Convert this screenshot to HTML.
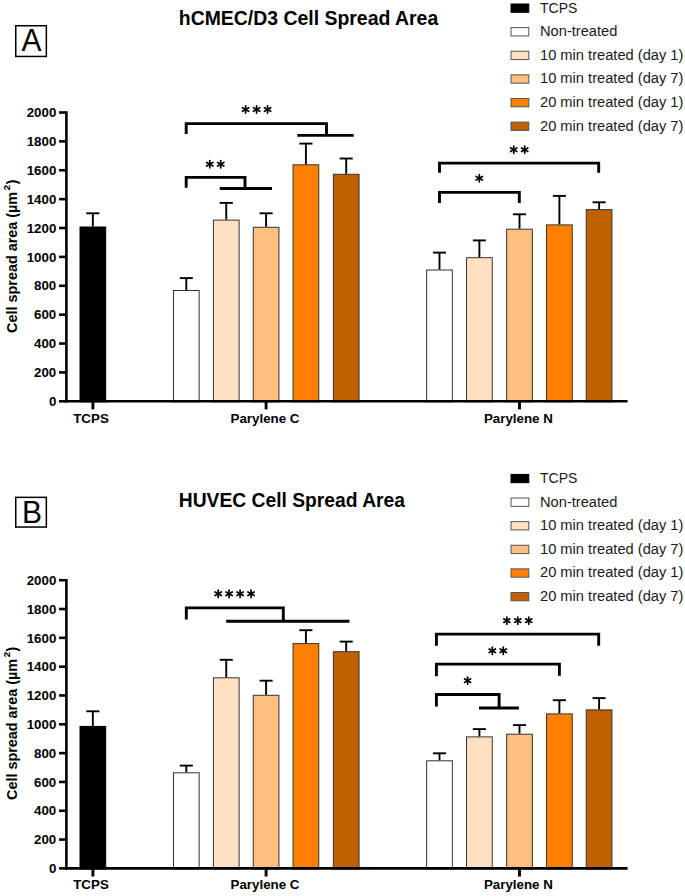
<!DOCTYPE html>
<html><head><meta charset="utf-8"><style>
html,body{margin:0;padding:0;background:#fff;}
body{width:685px;height:896px;overflow:hidden;font-family:"Liberation Sans", sans-serif;}
svg{display:block;}
</style></head><body>
<svg width="685" height="896" viewBox="0 0 685 896" font-family='"Liberation Sans", sans-serif'>
<rect x="15.75" y="25.75" width="30.6" height="30.7" fill="none" stroke="#000" stroke-width="1.5"/>
<text transform="translate(31.55 51.4) scale(1 1.075)" font-size="30" text-anchor="middle" fill="#000">A</text>
<text x="178.8" y="24.9" font-size="19.3" font-weight="bold" fill="#000" textLength="259.4" lengthAdjust="spacingAndGlyphs">hCMEC/D3 Cell Spread Area</text>
<rect x="511" y="4.00" width="17.8" height="8.3" fill="#000000" stroke="#000" stroke-width="1"/>
<text x="540" y="12.50" font-size="14.67" fill="#1a1a1a" textLength="37.3" lengthAdjust="spacingAndGlyphs">TCPS</text>
<rect x="511" y="27.62" width="17.8" height="8.3" fill="#ffffff" stroke="#555" stroke-width="1"/>
<text x="540" y="36.12" font-size="14.67" fill="#1a1a1a">Non-treated</text>
<rect x="511" y="51.24" width="17.8" height="8.3" fill="#ffe0c2" stroke="#555" stroke-width="1"/>
<text x="540" y="59.74" font-size="14.67" fill="#1a1a1a">10 min treated (day 1)</text>
<rect x="511" y="74.86" width="17.8" height="8.3" fill="#ffbf80" stroke="#555" stroke-width="1"/>
<text x="540" y="83.36" font-size="14.67" fill="#1a1a1a">10 min treated (day 7)</text>
<rect x="511" y="98.48" width="17.8" height="8.3" fill="#ff8000" stroke="#555" stroke-width="1"/>
<text x="540" y="106.98" font-size="14.67" fill="#1a1a1a">20 min treated (day 1)</text>
<rect x="511" y="122.10" width="17.8" height="8.3" fill="#c06000" stroke="#555" stroke-width="1"/>
<text x="540" y="130.60" font-size="14.67" fill="#1a1a1a">20 min treated (day 7)</text>
<text transform="translate(17.2 332.90) rotate(-90)" font-size="14.4" font-weight="bold" fill="#000">Cell spread area (µm<tspan dx="1.7" dy="-6.8" font-size="9.8">2</tspan><tspan dx="0.4" dy="6.8">)</tspan></text>
<text x="56.3" y="406.00" font-size="13.33" font-weight="bold" text-anchor="end" fill="#000">0</text>
<text x="56.3" y="377.12" font-size="13.33" font-weight="bold" text-anchor="end" fill="#000">200</text>
<text x="56.3" y="348.24" font-size="13.33" font-weight="bold" text-anchor="end" fill="#000">400</text>
<text x="56.3" y="319.36" font-size="13.33" font-weight="bold" text-anchor="end" fill="#000">600</text>
<text x="56.3" y="290.48" font-size="13.33" font-weight="bold" text-anchor="end" fill="#000">800</text>
<text x="56.3" y="261.60" font-size="13.33" font-weight="bold" text-anchor="end" fill="#000">1000</text>
<text x="56.3" y="232.72" font-size="13.33" font-weight="bold" text-anchor="end" fill="#000">1200</text>
<text x="56.3" y="203.84" font-size="13.33" font-weight="bold" text-anchor="end" fill="#000">1400</text>
<text x="56.3" y="174.96" font-size="13.33" font-weight="bold" text-anchor="end" fill="#000">1600</text>
<text x="56.3" y="146.08" font-size="13.33" font-weight="bold" text-anchor="end" fill="#000">1800</text>
<text x="56.3" y="117.20" font-size="13.33" font-weight="bold" text-anchor="end" fill="#000">2000</text>
<g stroke="#000" stroke-width="2.6"><line x1="59" y1="401.30" x2="66" y2="401.30"/><line x1="59" y1="372.42" x2="66" y2="372.42"/><line x1="59" y1="343.54" x2="66" y2="343.54"/><line x1="59" y1="314.66" x2="66" y2="314.66"/><line x1="59" y1="285.78" x2="66" y2="285.78"/><line x1="59" y1="256.90" x2="66" y2="256.90"/><line x1="59" y1="228.02" x2="66" y2="228.02"/><line x1="59" y1="199.14" x2="66" y2="199.14"/><line x1="59" y1="170.26" x2="66" y2="170.26"/><line x1="59" y1="141.38" x2="66" y2="141.38"/><line x1="59" y1="112.50" x2="66" y2="112.50"/></g>
<rect x="80.00" y="227.00" width="25.7" height="174.80" fill="#000000" stroke="#000" stroke-width="1"/>
<rect x="173.45" y="290.50" width="25.7" height="111.30" fill="#ffffff" stroke="#333" stroke-width="1"/>
<rect x="213.40" y="220.10" width="25.7" height="181.70" fill="#ffe0c2" stroke="#333" stroke-width="1"/>
<rect x="253.25" y="227.30" width="25.7" height="174.50" fill="#ffbf80" stroke="#333" stroke-width="1"/>
<rect x="293.05" y="164.80" width="25.7" height="237.00" fill="#ff8000" stroke="#333" stroke-width="1"/>
<rect x="333.35" y="174.30" width="25.7" height="227.50" fill="#c06000" stroke="#333" stroke-width="1"/>
<rect x="426.65" y="270.00" width="25.7" height="131.80" fill="#ffffff" stroke="#333" stroke-width="1"/>
<rect x="466.55" y="257.70" width="25.7" height="144.10" fill="#ffe0c2" stroke="#333" stroke-width="1"/>
<rect x="506.65" y="229.20" width="25.7" height="172.60" fill="#ffbf80" stroke="#333" stroke-width="1"/>
<rect x="546.55" y="224.90" width="25.7" height="176.90" fill="#ff8000" stroke="#333" stroke-width="1"/>
<rect x="586.25" y="209.60" width="25.7" height="192.20" fill="#c06000" stroke="#333" stroke-width="1"/>
<g stroke="#000" stroke-width="1.9"><line x1="92.85" y1="226.50" x2="92.85" y2="213.30"/><line x1="86.30" y1="213.30" x2="99.40" y2="213.30"/><line x1="186.30" y1="290.00" x2="186.30" y2="278.10"/><line x1="179.75" y1="278.10" x2="192.85" y2="278.10"/><line x1="226.25" y1="219.60" x2="226.25" y2="202.90"/><line x1="219.70" y1="202.90" x2="232.80" y2="202.90"/><line x1="266.10" y1="226.80" x2="266.10" y2="213.30"/><line x1="259.55" y1="213.30" x2="272.65" y2="213.30"/><line x1="305.90" y1="164.30" x2="305.90" y2="143.60"/><line x1="299.35" y1="143.60" x2="312.45" y2="143.60"/><line x1="346.20" y1="173.80" x2="346.20" y2="158.50"/><line x1="339.65" y1="158.50" x2="352.75" y2="158.50"/><line x1="439.50" y1="269.50" x2="439.50" y2="252.60"/><line x1="432.95" y1="252.60" x2="446.05" y2="252.60"/><line x1="479.40" y1="257.20" x2="479.40" y2="240.40"/><line x1="472.85" y1="240.40" x2="485.95" y2="240.40"/><line x1="519.50" y1="228.70" x2="519.50" y2="214.30"/><line x1="512.95" y1="214.30" x2="526.05" y2="214.30"/><line x1="559.40" y1="224.40" x2="559.40" y2="195.90"/><line x1="552.85" y1="195.90" x2="565.95" y2="195.90"/><line x1="599.10" y1="209.10" x2="599.10" y2="202.30"/><line x1="592.55" y1="202.30" x2="605.65" y2="202.30"/></g>
<g stroke="#000" stroke-width="2.6" fill="none"><line x1="66.4" y1="111.20" x2="66.4" y2="402.60"/><line x1="65.1" y1="401.30" x2="627.6" y2="401.30"/></g>
<g stroke="#000" stroke-width="2.9"><line x1="92.9" y1="401.30" x2="92.9" y2="409.40"/><line x1="266.1" y1="401.30" x2="266.1" y2="409.40"/><line x1="519.5" y1="401.30" x2="519.5" y2="409.40"/></g>
<text x="91" y="423.30" font-size="13.33" font-weight="bold" text-anchor="middle" fill="#000">TCPS</text>
<text x="265" y="423.30" font-size="13.33" font-weight="bold" text-anchor="middle" fill="#000">Parylene C</text>
<text x="518.4" y="423.30" font-size="13.33" font-weight="bold" text-anchor="middle" fill="#000">Parylene N</text>
<g stroke="#000" stroke-width="2.9" fill="none" stroke-linejoin="miter"><path d="M186.20 134.10 L186.20 123.60 L326.50 123.60 L326.50 135.40"/><path d="M297.30 135.40 L353.70 135.40"/><path d="M186.20 187.70 L186.20 177.40 L245.00 177.40 L245.00 188.50"/><path d="M219.70 188.50 L272.00 188.50"/><path d="M439.50 172.80 L439.50 163.10 L598.70 163.10 L598.70 172.80"/><path d="M439.50 203.10 L439.50 192.40 L519.30 192.40 L519.30 203.10"/></g>
<g stroke="#000" stroke-width="1.7" stroke-linecap="round"><line x1="245.65" y1="105.90" x2="245.65" y2="113.10"/><line x1="242.53" y1="107.70" x2="248.77" y2="111.30"/><line x1="248.77" y1="107.70" x2="242.53" y2="111.30"/><line x1="256.60" y1="105.90" x2="256.60" y2="113.10"/><line x1="253.48" y1="107.70" x2="259.72" y2="111.30"/><line x1="259.72" y1="107.70" x2="253.48" y2="111.30"/><line x1="267.55" y1="105.90" x2="267.55" y2="113.10"/><line x1="264.43" y1="107.70" x2="270.67" y2="111.30"/><line x1="270.67" y1="107.70" x2="264.43" y2="111.30"/><line x1="209.78" y1="160.60" x2="209.78" y2="167.80"/><line x1="206.66" y1="162.40" x2="212.89" y2="166.00"/><line x1="212.89" y1="162.40" x2="206.66" y2="166.00"/><line x1="220.72" y1="160.60" x2="220.72" y2="167.80"/><line x1="217.61" y1="162.40" x2="223.84" y2="166.00"/><line x1="223.84" y1="162.40" x2="217.61" y2="166.00"/><line x1="513.73" y1="146.10" x2="513.73" y2="153.30"/><line x1="510.61" y1="147.90" x2="516.84" y2="151.50"/><line x1="516.84" y1="147.90" x2="510.61" y2="151.50"/><line x1="524.68" y1="146.10" x2="524.68" y2="153.30"/><line x1="521.56" y1="147.90" x2="527.79" y2="151.50"/><line x1="527.79" y1="147.90" x2="521.56" y2="151.50"/><line x1="479.30" y1="174.60" x2="479.30" y2="181.80"/><line x1="476.18" y1="176.40" x2="482.42" y2="180.00"/><line x1="482.42" y1="176.40" x2="476.18" y2="180.00"/></g>
<rect x="15.75" y="497.35" width="30.6" height="29.7" fill="none" stroke="#000" stroke-width="1.5"/>
<text transform="translate(32.0 522.8) scale(1 1.075)" font-size="30" text-anchor="middle" fill="#000">B</text>
<text x="178.8" y="507" font-size="19.3" font-weight="bold" fill="#000" textLength="226.2" lengthAdjust="spacingAndGlyphs">HUVEC Cell Spread Area</text>
<rect x="511" y="474.40" width="17.8" height="8.3" fill="#000000" stroke="#000" stroke-width="1"/>
<text x="540" y="482.90" font-size="14.67" fill="#1a1a1a" textLength="37.3" lengthAdjust="spacingAndGlyphs">TCPS</text>
<rect x="511" y="498.02" width="17.8" height="8.3" fill="#ffffff" stroke="#555" stroke-width="1"/>
<text x="540" y="506.52" font-size="14.67" fill="#1a1a1a">Non-treated</text>
<rect x="511" y="521.64" width="17.8" height="8.3" fill="#ffe0c2" stroke="#555" stroke-width="1"/>
<text x="540" y="530.14" font-size="14.67" fill="#1a1a1a">10 min treated (day 1)</text>
<rect x="511" y="545.26" width="17.8" height="8.3" fill="#ffbf80" stroke="#555" stroke-width="1"/>
<text x="540" y="553.76" font-size="14.67" fill="#1a1a1a">10 min treated (day 7)</text>
<rect x="511" y="568.88" width="17.8" height="8.3" fill="#ff8000" stroke="#555" stroke-width="1"/>
<text x="540" y="577.38" font-size="14.67" fill="#1a1a1a">20 min treated (day 1)</text>
<rect x="511" y="592.50" width="17.8" height="8.3" fill="#c06000" stroke="#555" stroke-width="1"/>
<text x="540" y="601.00" font-size="14.67" fill="#1a1a1a">20 min treated (day 7)</text>
<text transform="translate(17.2 800.00) rotate(-90)" font-size="14.4" font-weight="bold" fill="#000">Cell spread area (µm<tspan dx="1.7" dy="-6.8" font-size="9.8">2</tspan><tspan dx="0.4" dy="6.8">)</tspan></text>
<text x="56.3" y="873.10" font-size="13.33" font-weight="bold" text-anchor="end" fill="#000">0</text>
<text x="56.3" y="844.28" font-size="13.33" font-weight="bold" text-anchor="end" fill="#000">200</text>
<text x="56.3" y="815.46" font-size="13.33" font-weight="bold" text-anchor="end" fill="#000">400</text>
<text x="56.3" y="786.64" font-size="13.33" font-weight="bold" text-anchor="end" fill="#000">600</text>
<text x="56.3" y="757.82" font-size="13.33" font-weight="bold" text-anchor="end" fill="#000">800</text>
<text x="56.3" y="729.00" font-size="13.33" font-weight="bold" text-anchor="end" fill="#000">1000</text>
<text x="56.3" y="700.18" font-size="13.33" font-weight="bold" text-anchor="end" fill="#000">1200</text>
<text x="56.3" y="671.36" font-size="13.33" font-weight="bold" text-anchor="end" fill="#000">1400</text>
<text x="56.3" y="642.54" font-size="13.33" font-weight="bold" text-anchor="end" fill="#000">1600</text>
<text x="56.3" y="613.72" font-size="13.33" font-weight="bold" text-anchor="end" fill="#000">1800</text>
<text x="56.3" y="584.90" font-size="13.33" font-weight="bold" text-anchor="end" fill="#000">2000</text>
<g stroke="#000" stroke-width="2.6"><line x1="59" y1="868.40" x2="66" y2="868.40"/><line x1="59" y1="839.58" x2="66" y2="839.58"/><line x1="59" y1="810.76" x2="66" y2="810.76"/><line x1="59" y1="781.94" x2="66" y2="781.94"/><line x1="59" y1="753.12" x2="66" y2="753.12"/><line x1="59" y1="724.30" x2="66" y2="724.30"/><line x1="59" y1="695.48" x2="66" y2="695.48"/><line x1="59" y1="666.66" x2="66" y2="666.66"/><line x1="59" y1="637.84" x2="66" y2="637.84"/><line x1="59" y1="609.02" x2="66" y2="609.02"/><line x1="59" y1="580.20" x2="66" y2="580.20"/></g>
<rect x="80.00" y="726.40" width="25.7" height="142.50" fill="#000000" stroke="#000" stroke-width="1"/>
<rect x="173.45" y="772.80" width="25.7" height="96.10" fill="#ffffff" stroke="#333" stroke-width="1"/>
<rect x="213.40" y="677.80" width="25.7" height="191.10" fill="#ffe0c2" stroke="#333" stroke-width="1"/>
<rect x="253.25" y="695.30" width="25.7" height="173.60" fill="#ffbf80" stroke="#333" stroke-width="1"/>
<rect x="293.05" y="643.60" width="25.7" height="225.30" fill="#ff8000" stroke="#333" stroke-width="1"/>
<rect x="333.35" y="651.70" width="25.7" height="217.20" fill="#c06000" stroke="#333" stroke-width="1"/>
<rect x="426.65" y="760.80" width="25.7" height="108.10" fill="#ffffff" stroke="#333" stroke-width="1"/>
<rect x="466.55" y="736.90" width="25.7" height="132.00" fill="#ffe0c2" stroke="#333" stroke-width="1"/>
<rect x="506.65" y="734.20" width="25.7" height="134.70" fill="#ffbf80" stroke="#333" stroke-width="1"/>
<rect x="546.55" y="713.90" width="25.7" height="155.00" fill="#ff8000" stroke="#333" stroke-width="1"/>
<rect x="586.25" y="709.90" width="25.7" height="159.00" fill="#c06000" stroke="#333" stroke-width="1"/>
<g stroke="#000" stroke-width="1.9"><line x1="92.85" y1="725.90" x2="92.85" y2="711.30"/><line x1="86.30" y1="711.30" x2="99.40" y2="711.30"/><line x1="186.30" y1="772.30" x2="186.30" y2="765.60"/><line x1="179.75" y1="765.60" x2="192.85" y2="765.60"/><line x1="226.25" y1="677.30" x2="226.25" y2="659.80"/><line x1="219.70" y1="659.80" x2="232.80" y2="659.80"/><line x1="266.10" y1="694.80" x2="266.10" y2="680.70"/><line x1="259.55" y1="680.70" x2="272.65" y2="680.70"/><line x1="305.90" y1="643.10" x2="305.90" y2="630.20"/><line x1="299.35" y1="630.20" x2="312.45" y2="630.20"/><line x1="346.20" y1="651.20" x2="346.20" y2="641.60"/><line x1="339.65" y1="641.60" x2="352.75" y2="641.60"/><line x1="439.50" y1="760.30" x2="439.50" y2="753.30"/><line x1="432.95" y1="753.30" x2="446.05" y2="753.30"/><line x1="479.40" y1="736.40" x2="479.40" y2="729.10"/><line x1="472.85" y1="729.10" x2="485.95" y2="729.10"/><line x1="519.50" y1="733.70" x2="519.50" y2="725.10"/><line x1="512.95" y1="725.10" x2="526.05" y2="725.10"/><line x1="559.40" y1="713.40" x2="559.40" y2="700.20"/><line x1="552.85" y1="700.20" x2="565.95" y2="700.20"/><line x1="599.10" y1="709.40" x2="599.10" y2="698.10"/><line x1="592.55" y1="698.10" x2="605.65" y2="698.10"/></g>
<g stroke="#000" stroke-width="2.6" fill="none"><line x1="66.4" y1="578.90" x2="66.4" y2="869.70"/><line x1="65.1" y1="868.40" x2="627.6" y2="868.40"/></g>
<g stroke="#000" stroke-width="2.9"><line x1="92.9" y1="868.40" x2="92.9" y2="876.50"/><line x1="266.1" y1="868.40" x2="266.1" y2="876.50"/><line x1="519.5" y1="868.40" x2="519.5" y2="876.50"/></g>
<text x="91" y="889.40" font-size="13.33" font-weight="bold" text-anchor="middle" fill="#000">TCPS</text>
<text x="265" y="889.40" font-size="13.33" font-weight="bold" text-anchor="middle" fill="#000">Parylene C</text>
<text x="518.4" y="889.40" font-size="13.33" font-weight="bold" text-anchor="middle" fill="#000">Parylene N</text>
<g stroke="#000" stroke-width="2.9" fill="none" stroke-linejoin="miter"><path d="M186.30 619.40 L186.30 607.90 L283.30 607.90 L283.30 621.20"/><path d="M226.20 621.20 L349.50 621.20"/><path d="M436.40 645.80 L436.40 634.10 L598.70 634.10 L598.70 645.80"/><path d="M436.40 676.20 L436.40 664.10 L559.40 664.10 L559.40 675.80"/><path d="M436.40 706.60 L436.40 694.50 L499.10 694.50 L499.10 708.00"/><path d="M479.00 708.00 L518.90 708.00"/></g>
<g stroke="#000" stroke-width="1.7" stroke-linecap="round"><line x1="218.18" y1="590.20" x2="218.18" y2="597.40"/><line x1="215.06" y1="592.00" x2="221.29" y2="595.60"/><line x1="221.29" y1="592.00" x2="215.06" y2="595.60"/><line x1="229.12" y1="590.20" x2="229.12" y2="597.40"/><line x1="226.01" y1="592.00" x2="232.24" y2="595.60"/><line x1="232.24" y1="592.00" x2="226.01" y2="595.60"/><line x1="240.08" y1="590.20" x2="240.08" y2="597.40"/><line x1="236.96" y1="592.00" x2="243.19" y2="595.60"/><line x1="243.19" y1="592.00" x2="236.96" y2="595.60"/><line x1="251.03" y1="590.20" x2="251.03" y2="597.40"/><line x1="247.91" y1="592.00" x2="254.14" y2="595.60"/><line x1="254.14" y1="592.00" x2="247.91" y2="595.60"/><line x1="506.85" y1="617.00" x2="506.85" y2="624.20"/><line x1="503.73" y1="618.80" x2="509.97" y2="622.40"/><line x1="509.97" y1="618.80" x2="503.73" y2="622.40"/><line x1="517.80" y1="617.00" x2="517.80" y2="624.20"/><line x1="514.68" y1="618.80" x2="520.92" y2="622.40"/><line x1="520.92" y1="618.80" x2="514.68" y2="622.40"/><line x1="528.75" y1="617.00" x2="528.75" y2="624.20"/><line x1="525.63" y1="618.80" x2="531.87" y2="622.40"/><line x1="531.87" y1="618.80" x2="525.63" y2="622.40"/><line x1="492.32" y1="647.20" x2="492.32" y2="654.40"/><line x1="489.21" y1="649.00" x2="495.44" y2="652.60"/><line x1="495.44" y1="649.00" x2="489.21" y2="652.60"/><line x1="503.27" y1="647.20" x2="503.27" y2="654.40"/><line x1="500.16" y1="649.00" x2="506.39" y2="652.60"/><line x1="506.39" y1="649.00" x2="500.16" y2="652.60"/><line x1="467.60" y1="677.00" x2="467.60" y2="684.20"/><line x1="464.48" y1="678.80" x2="470.72" y2="682.40"/><line x1="470.72" y1="678.80" x2="464.48" y2="682.40"/></g>
</svg>
</body></html>
